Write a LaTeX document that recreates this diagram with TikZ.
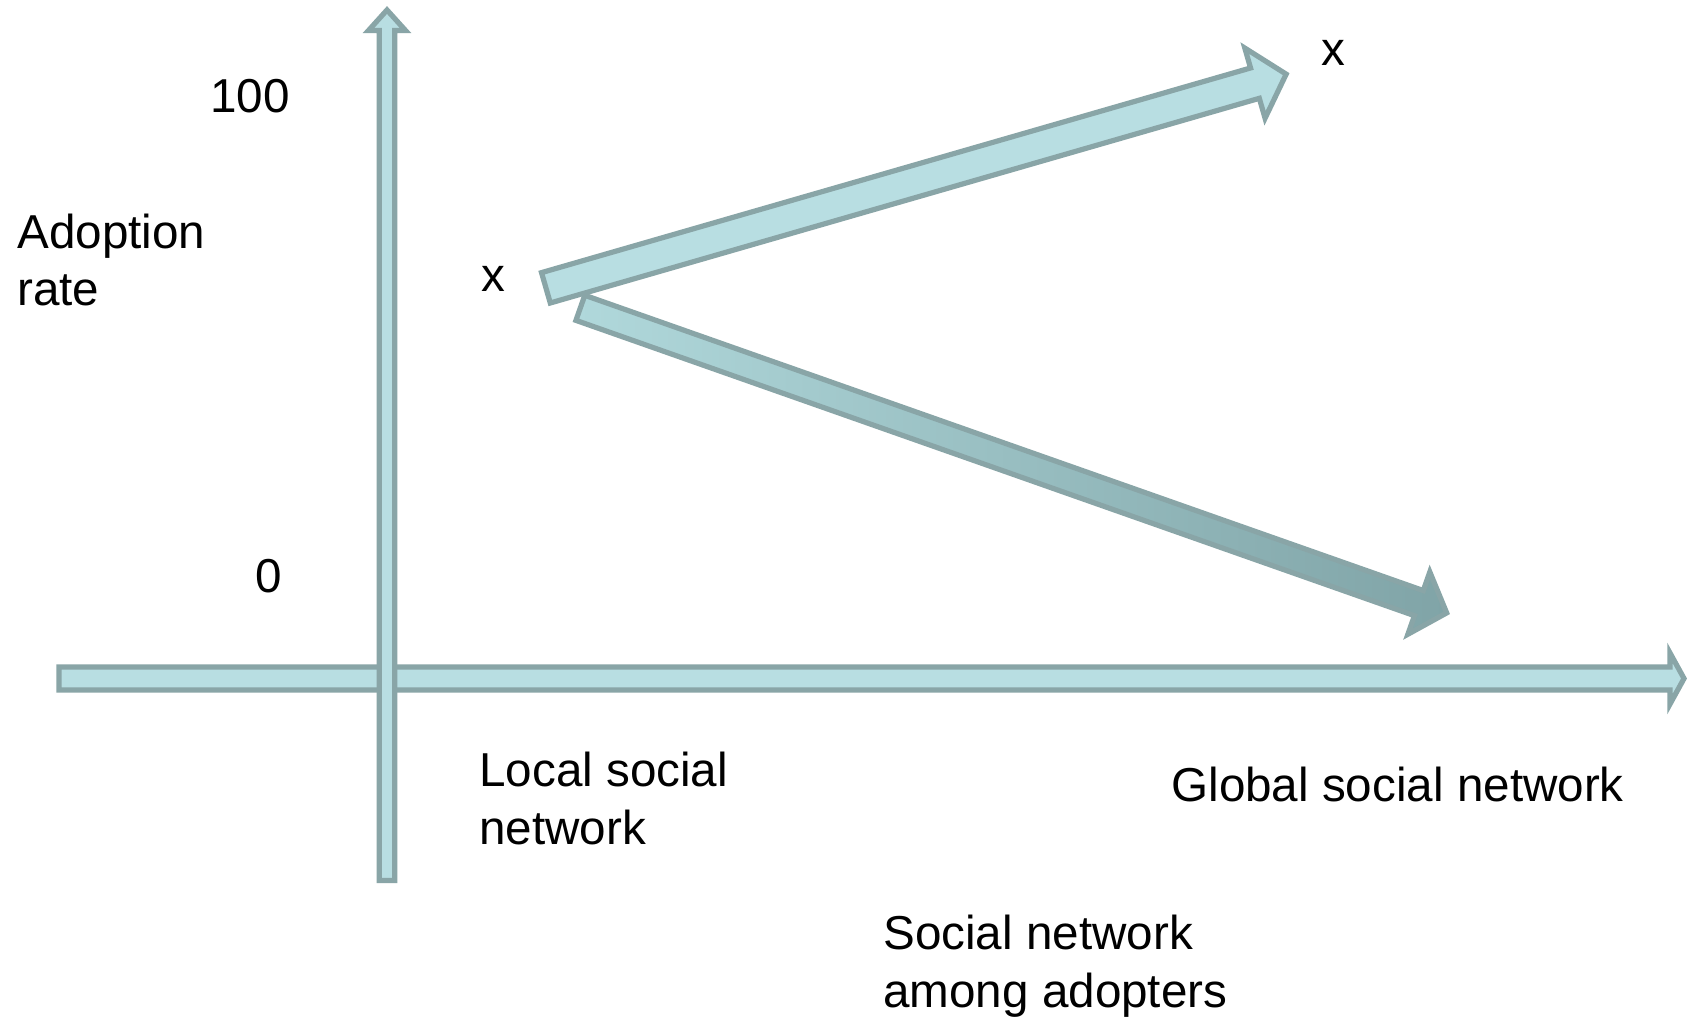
\documentclass[tikz,border=0pt]{standalone}
\usepackage{fontspec}
\setmainfont{Liberation Sans}
\definecolor{arrfill}{RGB}{184,222,226}
\definecolor{arrline}{RGB}{137,165,167}
\definecolor{shadeA}{RGB}{176,216,219}
\definecolor{shadeB}{RGB}{128,164,167}
\begin{document}
\begin{tikzpicture}[x=0.5pt,y=-0.5pt,
  blockarrow/.style={draw=arrline,fill=arrfill,line width=2.6pt,line join=miter},
  shadedarrow/.style={draw=arrline,left color=shadeA,right color=shadeB,line width=2.6pt,line join=miter},
  lbl/.style={anchor=base west,inner sep=0pt,font=\fontsize{23.8}{28.75}\selectfont,align=left}]
\useasboundingbox[fill=white] (0,0) rectangle (1689,1021);

% horizontal axis
\draw[blockarrow] (59,667) -- (1670,667) -- (1670,653) -- (1684,678.5) -- (1670,704) -- (1670,690) -- (59,690) -- cycle;
% vertical axis
\draw[blockarrow] (379.2,880.5) -- (379.2,30.5) -- (368.5,30.5) -- (387,10) -- (405.5,30.5) -- (394.8,30.5) -- (394.8,880.5) -- cycle;

% lower diagonal arrow
\begin{scope}[shift={(578,307)},rotate=-19.4]
\draw[shadedarrow] (2.5,13.3) -- (891.5,13.3) -- (891.5,33) -- (921,0) -- (891.5,-33) -- (891.5,-13.3) -- (2.5,-13.3) -- cycle;
\end{scope}
% upper diagonal arrow
\begin{scope}[shift={(543.5,288.5)},rotate=16.1]
\draw[blockarrow] (2.5,15.8) -- (740.5,15.8) -- (740.5,36.5) -- (773,0) -- (740.5,-36.5) -- (740.5,-15.8) -- (2.5,-15.8) -- cycle;
\end{scope}

\node[lbl] (hundred) at (210,113) {100};
\node[lbl] (zero) at (255,592) {0};
\node[lbl] (adoption) at (17,306) {Adoption\\rate};
\node[lbl] (xlow) at (481,292) {x};
\node[lbl] (xhigh) at (1321,66) {x};
\node[lbl] (local) at (479,844) {Local social\\network};
\node[lbl] (global) at (1171,801) {Global social network};
\node[lbl] (among) at (883,1007) {Social network\\among adopters};
\end{tikzpicture}
\end{document}
